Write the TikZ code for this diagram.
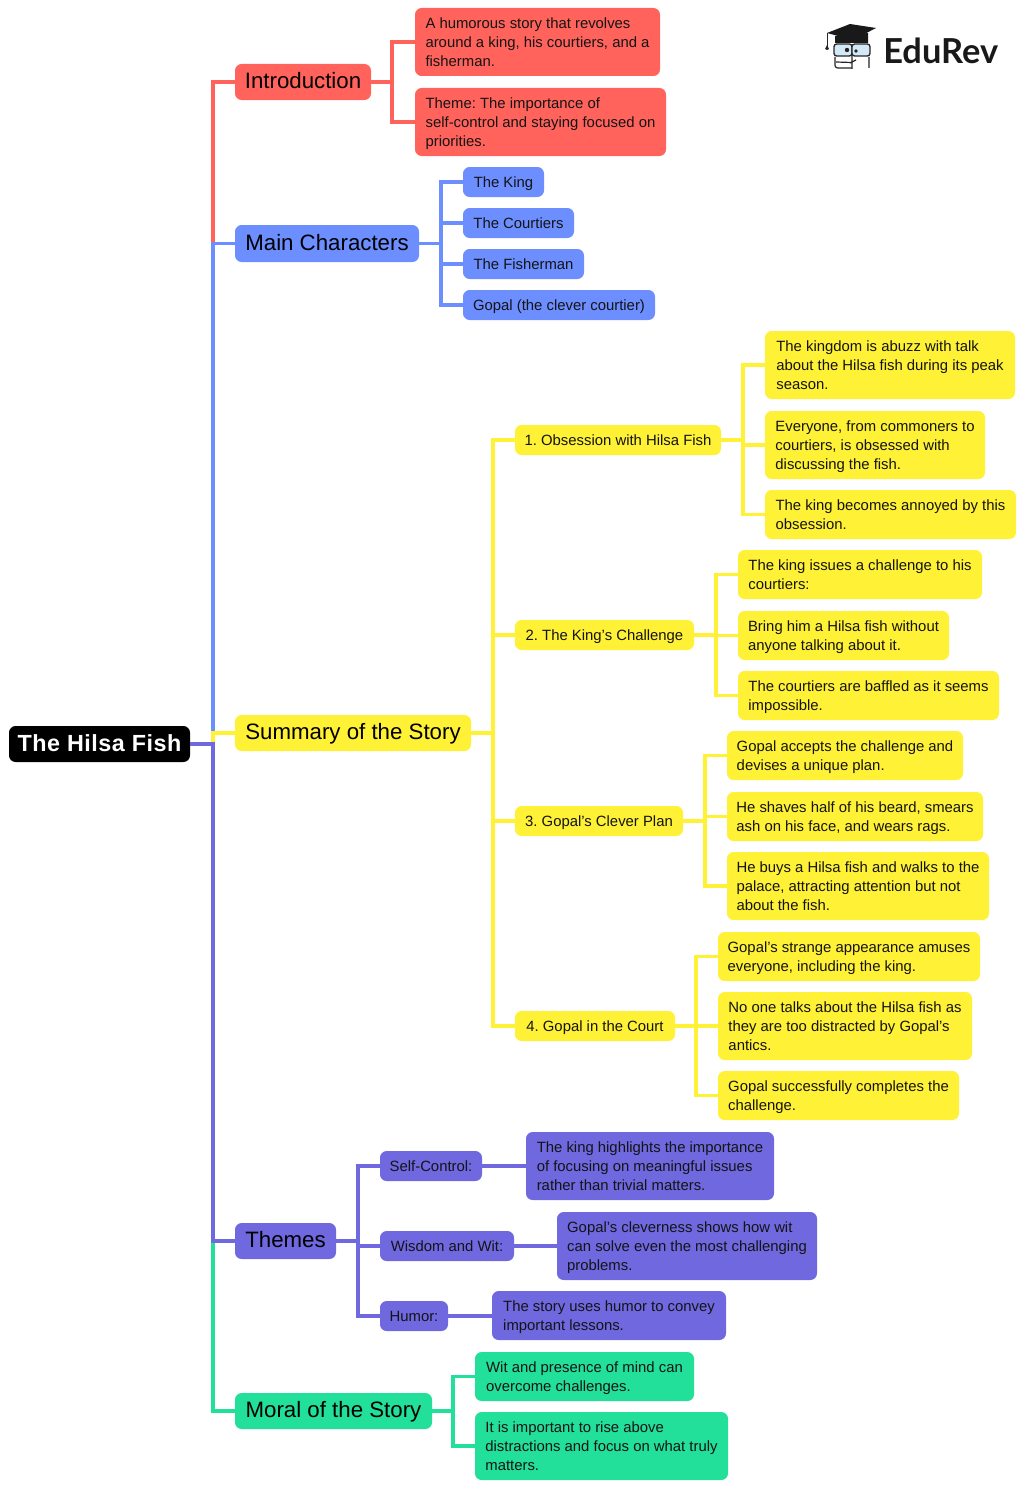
\documentclass[tikz,border=0pt]{standalone}
\usepackage{fontspec}
\setmainfont{Liberation Sans}
\newfontfamily\logofont{Lato}
\definecolor{cred}{HTML}{FF635C}
\definecolor{cblue}{HTML}{6C8EFF}
\definecolor{cyel}{HTML}{FFF135}
\definecolor{cpur}{HTML}{6F68DF}
\definecolor{cgrn}{HTML}{22DF9A}
\definecolor{lens}{HTML}{D4E9F7}
\newcommand{\bx}[7]{%
  \pgfmathsetmacro{\bw}{(#4-#2)*0.75}%
  \pgfmathsetmacro{\bh}{(#5-#3)*0.75}%
  \node[box,#6,minimum width=\bw pt,minimum height=\bh pt] (#1) at (#2,#3) {\frenchspacing\raisebox{-1.2pt}[\height][\depth]{\begin{tabular}{@{}l@{}}#7\end{tabular}}};}
\newcommand{\link}[4]{\draw[wire,draw=#1] (#2.east) -- (#2.east -| #4) |- (#3.west);}
\tikzset{
  box/.style={anchor=north west,rounded corners=5pt,inner sep=0pt,outer sep=0pt,text=black!92,
     font=\fontsize{11.15}{14.55}\selectfont},
  big/.style={font=\fontsize{16.7}{20}\selectfont,text=black},
  wire/.style={line width=2.9pt,line join=miter,line cap=butt},
  fr/.style={fill=cred},fb/.style={fill=cblue},fy/.style={fill=cyel},fp/.style={fill=cpur},fg/.style={fill=cgrn},
}
\begin{document}
\begin{tikzpicture}[x=0.75pt,y=-0.75pt]
\useasboundingbox (0,0) rectangle (1024,1488);
\fill[white] (0,0) rectangle (1024,1488);
% spine coordinates
\coordinate (s0) at (213,0);
\coordinate (s1) at (392,0);
\coordinate (s2) at (441,0);
\coordinate (s3) at (493,0);
\coordinate (s31) at (743,0);
\coordinate (s32) at (716,0);
\coordinate (s33) at (705,0);
\coordinate (s34) at (696,0);
\coordinate (s4) at (358,0);
\coordinate (s5) at (453,0);
% nodes
\bx{root}{9}{726}{190}{762}{fill=black,text=white,font=\fontsize{17.5}{22}\selectfont\bfseries}{\addfontfeature{LetterSpace=2.2}The Hilsa Fish}
\bx{intro}{235}{64}{371}{100}{fr,big}{Introduction}
\bx{main}{235}{225}{419}{262}{fb,big}{Main Characters}
\bx{summ}{235}{715}{471}{751}{fy,big}{Summary of the Story}
\bx{them}{235}{1223}{336}{1259}{fp,big}{Themes}
\bx{moral}{235}{1393}{432}{1429}{fg,big}{Moral of the Story}
\bx{i1}{415}{8}{660}{76}{fr}{A humorous story that revolves\\around a king, his courtiers, and a\\fisherman.}
\bx{i2}{415}{88}{666}{156}{fr}{Theme: The importance of\\self-control and staying focused on\\priorities.}
\bx{m1}{463}{167}{544}{197}{fb}{The King}
\bx{m2}{463}{208}{574}{238}{fb}{The Courtiers}
\bx{m3}{463}{249}{584}{279}{fb}{The Fisherman}
\bx{m4}{463}{290}{655}{320}{fb}{Gopal (the clever courtier)}
\bx{a}{515}{425}{721}{455}{fy}{1. Obsession with Hilsa Fish}
\bx{c}{515}{620}{694}{650}{fy}{2. The King’s Challenge}
\bx{d}{515}{806}{683}{836}{fy}{3. Gopal’s Clever Plan}
\bx{e}{515}{1011}{675}{1041}{fy}{4. Gopal in the Court}
\bx{a1}{765}{331}{1015}{399}{fy}{The kingdom is abuzz with talk\\about the Hilsa fish during its peak\\season.}
\bx{a2}{765}{411}{985}{479}{fy}{Everyone, from commoners to\\courtiers, is obsessed with\\discussing the fish.}
\bx{a3}{765}{490}{1016}{539}{fy}{The king becomes annoyed by this\\obsession.}
\bx{c1}{738}{550}{982}{599}{fy}{The king issues a challenge to his\\courtiers:}
\bx{c2}{738}{611}{949}{660}{fy}{Bring him a Hilsa fish without\\anyone talking about it.}
\bx{c3}{738}{671}{999}{720}{fy}{The courtiers are baffled as it seems\\impossible.}
\bx{d1}{727}{731}{963}{780}{fy}{Gopal accepts the challenge and\\devises a unique plan.}
\bx{d2}{727}{792}{983}{841}{fy}{He shaves half of his beard, smears\\ash on his face, and wears rags.}
\bx{d3}{727}{852}{989}{920}{fy}{He buys a Hilsa fish and walks to the\\palace, attracting attention but not\\about the fish.}
\bx{e1}{718}{932}{980}{981}{fy}{Gopal’s strange appearance amuses\\everyone, including the king.}
\bx{e2}{718}{992}{972}{1060}{fy}{No one talks about the Hilsa fish as\\they are too distracted by Gopal’s\\antics.}
\bx{e3}{718}{1071}{959}{1120}{fy}{Gopal successfully completes the\\challenge.}
\bx{t1}{380}{1151}{482}{1181}{fp}{Self-Control:}
\bx{t2}{380}{1231}{514}{1261}{fp}{Wisdom and Wit:}
\bx{t3}{380}{1301}{448}{1331}{fp}{Humor:}
\bx{t1a}{526}{1132}{774}{1200}{fp}{The king highlights the importance\\of focusing on meaningful issues\\rather than trivial matters.}
\bx{t2a}{557}{1212}{817}{1280}{fp}{Gopal’s cleverness shows how wit\\can solve even the most challenging\\problems.}
\bx{t3a}{492}{1291}{726}{1340}{fp}{The story uses humor to convey\\important lessons.}
\bx{g1}{475}{1352}{694}{1401}{fg}{Wit and presence of mind can\\overcome challenges.}
\bx{g2}{475}{1412}{728}{1480}{fg}{It is important to rise above\\distractions and focus on what truly\\matters.}
% connectors
\link{cred}{root}{intro}{s0}
\link{cblue}{root}{main}{s0}
\link{cyel}{root}{summ}{s0}
\link{cgrn}{root}{moral}{s0}
\link{cpur}{root}{them}{s0}
\link{cred}{intro}{i1}{s1}
\link{cred}{intro}{i2}{s1}
\link{cblue}{main}{m1}{s2}
\link{cblue}{main}{m2}{s2}
\link{cblue}{main}{m3}{s2}
\link{cblue}{main}{m4}{s2}
\link{cyel}{summ}{a}{s3}
\link{cyel}{summ}{c}{s3}
\link{cyel}{summ}{d}{s3}
\link{cyel}{summ}{e}{s3}
\link{cyel}{a}{a1}{s31}
\link{cyel}{a}{a2}{s31}
\link{cyel}{a}{a3}{s31}
\link{cyel}{c}{c1}{s32}
\link{cyel}{c}{c2}{s32}
\link{cyel}{c}{c3}{s32}
\link{cyel}{d}{d1}{s33}
\link{cyel}{d}{d2}{s33}
\link{cyel}{d}{d3}{s33}
\link{cyel}{e}{e1}{s34}
\link{cyel}{e}{e2}{s34}
\link{cyel}{e}{e3}{s34}
\link{cpur}{them}{t1}{s4}
\link{cpur}{them}{t2}{s4}
\link{cpur}{them}{t3}{s4}
\draw[wire,draw=cpur] (t1.east) -- (t1.east -| t1a.west);
\draw[wire,draw=cpur] (t2.east) -- (t2.east -| t2a.west);
\draw[wire,draw=cpur] (t3.east) -- (t3.east -| t3a.west);
\link{cgrn}{moral}{g1}{s5}
\link{cgrn}{moral}{g2}{s5}
% logo
\node[anchor=west,inner sep=0pt,font=\fontsize{25.8}{28}\logofont\bfseries,text=black!90] (logo) at (883,51) {EduRev};
\fill[black!90] (827,33) -- (850,24) -- (876,28) -- (853,40) -- cycle;
\fill[black!90] (835,36) -- (868,33) -- (868,43) -- (835,43) -- cycle;
\draw[black!85,line width=.7pt] (827,33) -- (827,47);
\fill[black!85] (827,45) -- (829,49) -- (827,50) -- (825,49) -- cycle;
\draw[black!85,line width=1pt,fill=lens,rounded corners=2pt] (834,44) rectangle (852,56);
\draw[black!85,line width=1pt,fill=lens,rounded corners=2pt] (852,44) rectangle (870,56);
\fill[black!85] (847,50) circle (2.2) (856,51) circle (1.8);
\draw[black!85,line width=.9pt,rounded corners=2pt] (835,57) -- (835,68) -- (852,68) (869,68) -- (869,57);
\draw[black!85,line width=.9pt] (852,56) -- (852,69) (836,62) -- (852,62.5) (850,63) -- (856,60);
\end{tikzpicture}
\end{document}
